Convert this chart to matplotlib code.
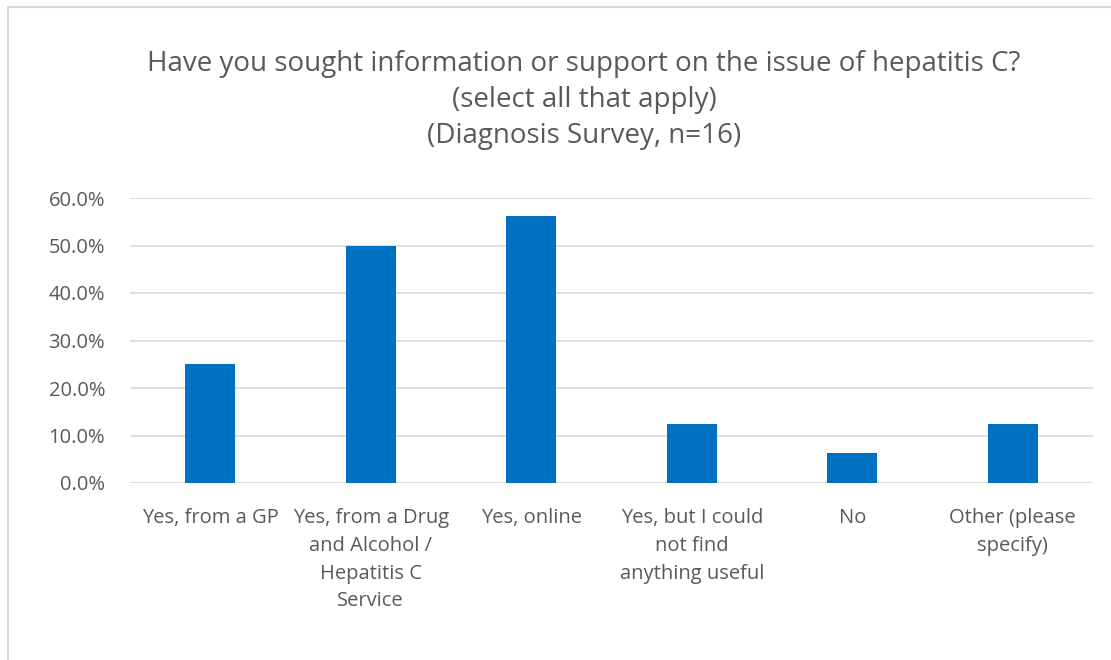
import matplotlib.pyplot as plt
from matplotlib.patches import Rectangle
from matplotlib.ticker import PercentFormatter

categories = [
    "Yes, from a GP",
    "Yes, from a Drug\nand Alcohol /\nHepatitis C\nService",
    "Yes, online",
    "Yes, but I could\nnot find\nanything useful",
    "No",
    "Other (please\nspecify)",
]
values = [25.0, 50.0, 56.25, 12.5, 6.25, 12.5]
yticks = [0, 10, 20, 30, 40, 50, 60]

TEXT = '#595959'
BAR = '#0070C0'
GRID = '#D9D9D9'

plt.rcParams['font.family'] = ['Open Sans', 'DejaVu Sans']

W, H = 1111, 660
fig = plt.figure(figsize=(W / 100, H / 100), dpi=100, facecolor='white')

# chart border (runs off the right and bottom edges)
fig.patches.append(Rectangle((8 / W, -0.1), 1.2, 1 - 7 / H + 0.1,
                             transform=fig.transFigure, fill=False,
                             edgecolor=GRID, linewidth=1.5))

ax = fig.add_axes([130 / W, 1 - 483 / H, (1093 - 130) / W, (483 - 198) / H])
x = range(len(categories))
ax.bar(x, values, width=0.31, color=BAR, zorder=3)

ax.set_xlim(-0.5, len(categories) - 0.5)
ax.set_ylim(0, 60)
ax.set_yticks(yticks)
ax.yaxis.set_major_formatter(PercentFormatter(decimals=1))
ax.set_xticks(list(x))
ax.set_xticklabels(categories, linespacing=1.52)
ax.grid(axis='y', color=GRID, linewidth=1.2, zorder=0)
for s in ax.spines.values():
    s.set_visible(False)
ax.tick_params(axis='both', length=0, colors=TEXT, labelsize=14.5)
ax.tick_params(axis='x', pad=18)
ax.tick_params(axis='y', pad=18)

fig.text(584 / W, 1 - 100 / H,
         "Have you sought information or support on the issue of hepatitis C?\n"
         "(select all that apply)\n(Diagnosis Survey, n=16)",
         ha='center', va='center', fontsize=20, color=TEXT, linespacing=1.36)

fig.savefig('out.png', dpi=100, facecolor='white')
